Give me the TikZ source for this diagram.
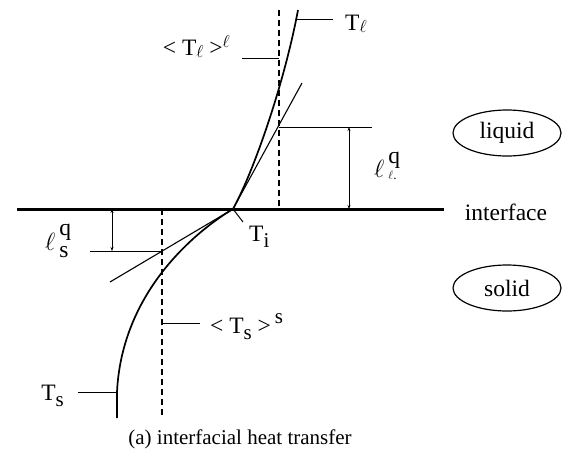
\documentclass[tikz,border=0pt]{standalone}
\usepackage{fontspec}
\setmainfont{Liberation Serif}
\usetikzlibrary{arrows.meta,shapes.geometric}
\newcommand{\mysub}[1]{\raisebox{-6pt}{\fontsize{21}{21}\selectfont #1}}
\newcommand{\mysup}[1]{\raisebox{10pt}{\fontsize{21}{21}\selectfont #1}}
\newcommand{\ellsub}{\raisebox{-2pt}{\fontsize{17}{17}\selectfont$\ell$}}
\newcommand{\ellsup}{\raisebox{8pt}{\fontsize{17}{17}\selectfont$\ell$}}
\begin{document}
\begin{tikzpicture}[x=1pt,y=-1pt,
  font=\fontsize{23.5}{28}\selectfont,
  iface/.style={line width=3pt},
  curve/.style={line width=1.7pt},
  tangent/.style={line width=1.1pt},
  tick/.style={line width=1pt},
  dashline/.style={line width=1.5pt,dash pattern=on 6pt off 4pt},
  dim/.style={line width=1pt,{Stealth[length=4pt,width=3pt]}-{Stealth[length=4pt,width=3pt]}},
  lbl/.style={inner sep=0pt},
  region/.style={draw,ellipse,line width=1.2pt,minimum width=108pt,minimum height=46pt,inner sep=0pt}]
\useasboundingbox (0,0) rectangle (563,453);
% interface line
\coordinate (ifL) at (17,209);
\coordinate (ifR) at (444,209);
\draw[iface] (ifL) -- (ifR);
% temperature profile
\coordinate (Ti) at (233,209);
\coordinate (ctop) at (298,10);
\coordinate (cvert) at (117,392);
\coordinate (cbot) at (117,418);
\draw[curve] (Ti) .. controls (255,169) and (285,80) .. (ctop);
\draw[curve] (Ti) .. controls (198,230) and (122,290) .. (cvert) -- (cbot);
% tangents
\coordinate (tl) at (302,83);
\coordinate (ts) at (110,282);
\draw[tangent] (Ti) -- (tl);
\draw[tangent] (Ti) -- (ts);
% Ti leader
\coordinate (tiL) at (243,222);
\draw[tick] (Ti) -- (tiL);
\node[lbl,anchor=base west] (TiLbl) at (249,241) {T\mysub{i}};
% dashed average lines
\coordinate (dlt) at (279,10);
\coordinate (dlb) at (279,209);
\draw[dashline] (dlt) -- (dlb);
\coordinate (dst) at (162,209);
\coordinate (dsb) at (162,418);
\draw[dashline] (dst) -- (dsb);
% T_l tick and label
\coordinate (tlA) at (297,19);
\coordinate (tlB) at (333,19);
\draw[tick] (tlA) -- (tlB);
\node[lbl,anchor=base west] (TlLbl) at (345,30) {T\ellsub};
% <T_l>^l tick and label
\coordinate (alA) at (242,58);
\coordinate (alB) at (279,58);
\draw[tick] (alA) -- (alB);
\node[lbl,anchor=base east] (avgl) at (230,55) {{<} T\ellsub{} {>}\ellsup};
% liquid length
\coordinate (qlA) at (279,127);
\coordinate (qlB) at (372,127);
\draw[tick] (qlA) -- (qlB);
\coordinate (qlT) at (349,127);
\coordinate (qlBot) at (349,209);
\draw[dim] (qlT) -- (qlBot);
\node[lbl,anchor=base west] (lql) at (374,177) {$\ell$\,\rlap{\raisebox{14pt}{q}}\raisebox{-2pt}{\fontsize{13}{13}\selectfont$\ell$.}};
% solid length
\coordinate (qsA) at (90,251);
\coordinate (qsB) at (162,251);
\draw[tick] (qsA) -- (qsB);
\coordinate (qsT) at (112,209);
\coordinate (qsBot) at (112,251);
\draw[dim] (qsT) -- (qsBot);
\node[lbl,anchor=base west] (lqs) at (45,250) {$\ell$\,\rlap{\raisebox{15pt}{q}}\raisebox{-7pt}{s}};
% <T_s>^s tick and label
\coordinate (asA) at (162,323);
\coordinate (asB) at (200,323);
\draw[tick] (asA) -- (asB);
\node[lbl,anchor=base west] (avgs) at (210,333) {{<} T\mysub{s} {>}\,\mysup{s}};
% T_s tick and label
\coordinate (tsA) at (78,392);
\draw[tick] (tsA) -- (cvert);
\node[lbl,anchor=base east] (TsLbl) at (64,400) {T\mysub{s}};
% regions
\node[region] (liquid) at (507,133) {liquid};
\node[lbl] (iftext) at (506,212) {interface};
\node[region] (solid) at (507,288) {solid};
% caption
\node[lbl,anchor=base,font=\fontsize{21}{25}\selectfont] (cap) at (240,444) {(a) interfacial heat transfer};
\end{tikzpicture}
\end{document}
